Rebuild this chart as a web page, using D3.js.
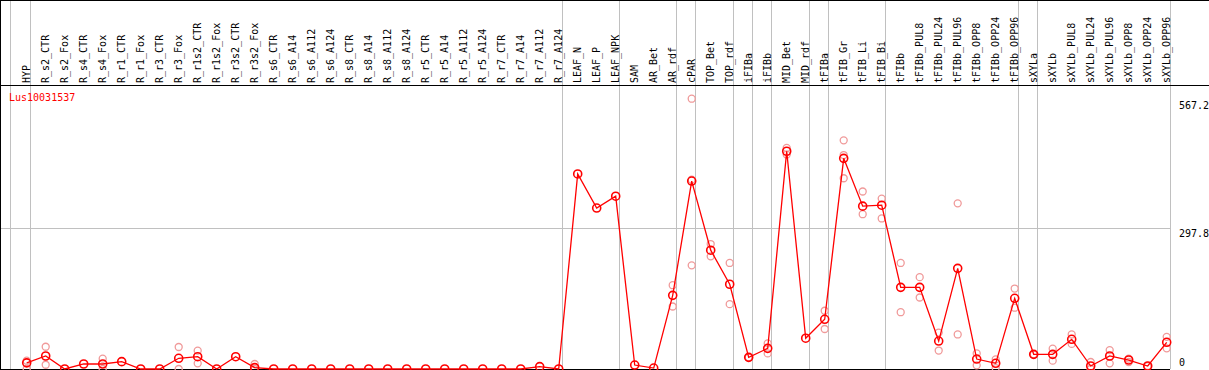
<!DOCTYPE html>
<html>
<head>
<meta charset="utf-8">
<script src="https://cdn.jsdelivr.net/npm/d3@7/dist/d3.min.js"></script>
<style>
html,body{margin:0;padding:0;background:#fff;}
svg{display:block;}
text{font-family:"DejaVu Sans Mono",monospace;font-size:10px;}
</style>
</head>
<body>
<svg id="chart" width="1209" height="370"></svg>
<script>
const title = "Lus10031537";
const categories = ["HYP","R_s2_CTR","R_s2_Fox","R_s4_CTR","R_s4_Fox","R_r1_CTR","R_r1_Fox","R_r3_CTR","R_r3_Fox","R_r1s2_CTR","R_r1s2_Fox","R_r3s2_CTR","R_r3s2_Fox","R_s6_CTR","R_s6_A14","R_s6_A112","R_s6_A124","R_s8_CTR","R_s8_A14","R_s8_A112","R_s8_A124","R_r5_CTR","R_r5_A14","R_r5_A112","R_r5_A124","R_r7_CTR","R_r7_A14","R_r7_A112","R_r7_A124","LEAF_N","LEAF_P","LEAF_NPK","SAM","AR_Bet","AR_rdf","cPAR","TOP_Bet","TOP_rdf","iFIBa","iFIBb","MID_Bet","MID_rdf","tFIBa","tFIB_Gr","tFIB_Li","tFIB_Bi","tFIBb","tFIBb_PUL8","tFIBb_PUL24","tFIBb_PUL96","tFIBb_OPP8","tFIBb_OPP24","tFIBb_OPP96","sXYLa","sXYLb","sXYLb_PUL8","sXYLb_PUL24","sXYLb_PUL96","sXYLb_OPP8","sXYLb_OPP24","sXYLb_OPP96"];
const means = [13,27.5,0,10.6,10.6,15.5,0,0,22.6,26,0,26,3,0,0,0,0,0,0,0,0,0,0,0,0,0,0,5,0,412,340,365,8.4,2,155.6,397,251,179,24.6,43.6,460,65,105,445,344,346,172.5,172.5,59,212.6,21,12,149.3,31,31,62.7,6.3,27.5,19,6.3,56.4];
const replicates = [[17.5,0],[47,9],[],[],[21.8,0],[],[],[],[46.5,0],[38.7,12],[],[],[10.6,0],[],[],[],[],[],[],[],[],[],[],[],[],[],[],[],[],[],[],[],[],[],[177,132],[571,219,400],[264,238],[224,137],[24.6,24.6],[54,33],[467,453],[],[123,84.5],[483,452,403],[375,327],[360,318],[224,120],[194,151],[77,39],[350,73],[33,7.7],[20.4,2],[170,129.5],[31,31],[43,17.6],[73,53],[14.8,0],[40,12],[14.8,22],[6.3],[68,43.7]];
const tickValues = [0, 297.8, 567.2];
const tickLabels = ["0","297.8","567.2"];
const groupEnds = ["HYP","R_r7_A124","LEAF_NPK","AR_rdf","cPAR","TOP_rdf","iFIBa","iFIBb","MID_rdf","tFIBa","tFIB_Bi","tFIBb_OPP96","sXYLa","sXYLb_OPP96"];

const W = 1209, H = 370;
const plotRight = 1170, headerY = 85, bottomY = 369;
const svg = d3.select("#chart");

const x = d3.scalePoint().domain(categories).range([26.7, 1166.7]);
const y = d3.scaleLinear().domain([0, 567.2]).range([369, 100.5]);

const crisp = v => Math.floor(v) + 0.5;

// horizontal grid line at middle tick
svg.append("line").attr("x1",0).attr("x2",plotRight)
  .attr("y1",crisp(y(297.8))).attr("y2",crisp(y(297.8)))
  .attr("stroke","#c0c0c0").attr("stroke-width",1);

// vertical group separators
const sepX = [x(categories[0]) - 16].concat(groupEnds.map(c => x(c) + 3.7));
svg.selectAll("line.sep").data(sepX).enter().append("line")
  .attr("class","sep")
  .attr("x1",d=>crisp(d)).attr("x2",d=>crisp(d))
  .attr("y1",0).attr("y2",bottomY)
  .attr("stroke","#c0c0c0").attr("stroke-width",1);

// borders
svg.append("line").attr("x1",0).attr("x2",W).attr("y1",0.5).attr("y2",0.5).attr("stroke","#000");
svg.append("line").attr("x1",0).attr("x2",W).attr("y1",headerY+0.5).attr("y2",headerY+0.5).attr("stroke","#000");
svg.append("line").attr("x1",0.5).attr("x2",0.5).attr("y1",0).attr("y2",H).attr("stroke","#000");
svg.append("line").attr("x1",0).attr("x2",plotRight).attr("y1",bottomY+0.5).attr("y2",bottomY+0.5).attr("stroke","#000");

// category labels (rotated)
svg.selectAll("text.cat").data(categories).enter().append("text")
  .attr("class","cat")
  .attr("transform",d=>`translate(${x(d)+3},83) rotate(-90)`)
  .attr("fill","#000")
  .text(d=>d);

// y tick labels
svg.selectAll("text.tick").data(tickValues).enter().append("text")
  .attr("class","tick")
  .attr("x",1179)
  .attr("y",(d)=>Math.min(y(d)+8.5, 365.5))
  .attr("fill","#000")
  .text((d,i)=>tickLabels[i]);

// title
svg.append("text").attr("x",9).attr("y",101).attr("fill","#ff0000").text(title);

// replicate points
const reps = [];
replicates.forEach((arr,i)=>arr.forEach(v=>reps.push({c:categories[i], v})));
svg.selectAll("circle.rep").data(reps).enter().append("circle")
  .attr("class","rep")
  .attr("cx",d=>x(d.c)).attr("cy",d=>y(d.v)).attr("r",3.5)
  .attr("fill","none").attr("stroke","#f09a9a").attr("stroke-width",1.3);

// mean line
const line = d3.line().x((d,i)=>x(categories[i])).y(d=>y(d));
svg.append("path").datum(means).attr("d",line)
  .attr("fill","none").attr("stroke","#ff0000").attr("stroke-width",1.3);

// mean markers
svg.selectAll("circle.mean").data(means).enter().append("circle")
  .attr("class","mean")
  .attr("cx",(d,i)=>x(categories[i])).attr("cy",d=>y(d)).attr("r",4)
  .attr("fill","none").attr("stroke","#ff0000").attr("stroke-width",1.6);
</script>
</body>
</html>
